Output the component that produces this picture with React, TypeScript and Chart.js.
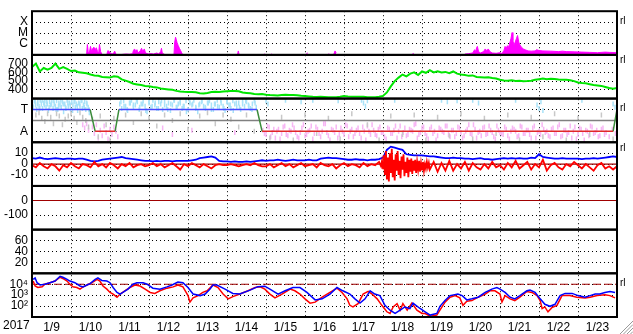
import React, { useEffect, useRef } from 'react';
import { Chart, registerables } from 'chart.js';

Chart.register(...registerables);

// ---------------- labels ----------------
const DATE_LABELS = ['1/9', '1/10', '1/11', '1/12', '1/13', '1/14', '1/15', '1/16', '1/17', '1/18', '1/19', '1/20', '1/21', '1/22', '1/23'];
const YEAR_LABEL = '2017';
const XRAY_TICKS = [1e-6, 1e-5, 1e-4];
const XRAY_TICK_LABELS = ['C', 'M', 'X'];
const SPEED_TICKS = [400, 500, 600, 700];
const SECTOR_TICKS = [-1, 1];
const SECTOR_TICK_LABELS = ['A', 'T'];
const IMF_TICKS = [-10, 0, 10];
const DST_TICKS = [-100, 0];
const KP_TICKS = [20, 40, 60];
const ELECTRON_TICKS = [1e2, 1e3, 1e4];
const ELECTRON_TICK_LABELS = ['10²', '10³', '10⁴'];
const SIDE_MARK = 'rl';

// time in days since 2017-01-09 00:00 UT
const SAMPLE_STEP_DAYS = 0.1;

// ---------------- X-ray flux (W/m², null = below scale) ----------------
const XRAY: [number, number | null][] = [
  [1.40, 1.2e-7], [1.42, 9e-7], [1.44, 2e-7], [1.47, 1.5e-7], [1.50, 6e-7], [1.53, 2e-7], [1.56, 4e-7], [1.59, 5e-7],
  [1.62, 3e-7], [1.65, 4.5e-7], [1.68, 2e-7], [1.71, 1.5e-7], [1.73, 9e-7], [1.76, 2e-7], [1.79, 1.2e-7], [1.80, null],
  [1.92, 1.3e-7], [1.95, 2.5e-7], [1.99, 1.8e-7], [2.03, 1.3e-7], [2.08, 1.2e-7], [2.12, 2.2e-7], [2.15, 1.2e-7], [2.16, null],
  [2.31, 1.1e-7], [2.40, 1.2e-7], [2.50, 1.15e-7], [2.58, 1.3e-7], [2.60, 2.5e-7], [2.63, 3.5e-7], [2.66, 2e-7], [2.69, 3e-7],
  [2.72, 1.5e-7], [2.78, 2.5e-7], [2.81, 4e-7], [2.84, 2e-7], [2.88, 3.5e-7], [2.91, 1.5e-7], [2.98, 1.2e-7], [3.05, 1.3e-7],
  [3.12, 1.2e-7], [3.20, 1.5e-7], [3.25, 1.2e-7], [3.30, 2e-7], [3.32, 4e-7], [3.34, 1.5e-7], [3.37, 1.3e-7], [3.40, 1.1e-7], [3.41, null],
  [3.64, 1.1e-7], [3.66, 1.5e-6], [3.68, 4.2e-6], [3.70, 2.5e-6], [3.72, 1.3e-6], [3.75, 7e-7], [3.78, 4e-7], [3.81, 2.5e-7],
  [3.84, 1.5e-7], [3.86, 1.1e-7], [3.87, null],
  [5.27, 1.1e-7], [5.29, 2.3e-7], [5.31, 1.1e-7], [5.32, null],
  [5.94, 1.1e-7], [5.96, 1.3e-7], [5.97, null],
  [6.12, 1.1e-7], [6.14, 1.3e-7], [6.15, null],
  [7.04, 1.1e-7], [7.06, 1.6e-7], [7.07, null],
  [7.59, 1.1e-7], [7.62, 1.3e-7], [7.63, null],
  [7.74, 1.2e-7], [7.77, 2.3e-7], [7.80, 1.5e-7], [7.81, null],
  [9.76, 1.1e-7], [9.78, 1.5e-7], [9.79, null],
  [11.10, 1.2e-7], [11.20, 1.3e-7], [11.30, 1.5e-7], [11.35, 3e-7], [11.38, 2e-7], [11.40, 4.5e-7], [11.42, 6e-7], [11.45, 2e-7],
  [11.50, 1.5e-7], [11.58, 2e-7], [11.62, 3.5e-7], [11.66, 2.5e-7], [11.70, 3.5e-7], [11.74, 2e-7], [11.80, 1.5e-7], [11.90, 1.4e-7],
  [12.00, 1.6e-7], [12.05, 1.3e-7], [12.10, 2.5e-7], [12.13, 6e-7], [12.16, 4e-7], [12.19, 7e-7], [12.22, 5e-7], [12.25, 1.2e-6],
  [12.28, 3e-6], [12.31, 1.1e-5], [12.33, 2e-6], [12.36, 8e-7], [12.39, 1.5e-6], [12.42, 3e-6], [12.45, 6e-6], [12.48, 1.5e-6],
  [12.51, 8e-7], [12.55, 5e-7], [12.60, 3.5e-7], [12.66, 2.8e-7], [12.72, 2.3e-7], [12.80, 2.2e-7], [12.90, 2.3e-7], [12.94, 3e-7],
  [13.00, 2.5e-7], [13.10, 2.3e-7], [13.30, 2.2e-7], [13.50, 2.0e-7], [13.60, 2.2e-7], [13.70, 2.0e-7], [13.90, 1.9e-7], [14.10, 1.8e-7],
  [14.30, 1.7e-7], [14.50, 1.6e-7], [14.70, 1.8e-7], [14.80, 1.7e-7], [15.00, 1.6e-7],
];

// ---------------- solar wind speed (km/s), every 0.1 day ----------------
const SPEED = [
  660, 700, 610, 650, 630, 650, 700, 640, 660, 640,
  615, 620, 600, 595, 590, 575, 565, 560, 548, 545,
  540, 555, 550, 520, 505, 490, 470, 462, 455, 445,
  440, 432, 428, 415, 410, 405, 400, 388, 382, 378,
  375, 375, 372, 362, 358, 365, 375, 378, 376, 380,
  384, 386, 388, 384, 370, 365, 360, 352, 350, 352,
  345, 340, 338, 336, 340, 343, 342, 340, 338, 332,
  330, 325, 320, 318, 320, 318, 316, 314, 315, 320,
  330, 325, 322, 320, 322, 320, 316, 314, 315, 320,
  330, 370, 440, 500, 540, 575, 555, 585, 600, 570,
  610, 595, 625, 600, 612, 598, 605, 590, 610, 585,
  575, 570, 560, 565, 548, 545, 540, 545, 535, 530,
  515, 508, 505, 510, 502, 505, 498, 500, 505, 515,
  522, 530, 520, 528, 525, 518, 515, 515, 510, 500,
  485, 478, 475, 465, 455, 450, 445, 432, 420, 412,
  420,
];

// ---------------- IMF sector (T = +1, A = -1) ----------------
const SECTOR_TOWARD: [number, number][] = [[0, 1.49], [2.23, 5.77]];
const SECTOR_AWAY: [number, number][] = [[1.62, 2.13], [5.90, 14.90]];
const SECTOR_SWITCH: [number, number, number, number][] = [
  [1.49, 1, 1.62, -1], [2.13, -1, 2.23, 1], [5.77, 1, 5.90, -1], [14.90, -1, 15.0, 1],
];

const TOWARD_PTS: [number, number][] = [
  [0.00, 1.6], [0.03, 1.2], [0.06, 1.8], [0.09, 1.4], [0.12, 1.0], [0.15, 1.7], [0.18, 1.3], [0.21, 1.85], [0.24, 1.5], [0.27, 1.1],
  [0.30, 1.6], [0.33, 1.8], [0.36, 1.2], [0.39, 1.5], [0.42, 0.9], [0.45, 1.7], [0.48, 1.4], [0.51, 1.85], [0.54, 1.1], [0.57, 1.5],
  [0.60, 1.3], [0.63, 1.8], [0.66, 1.0], [0.69, 1.6], [0.72, 1.4], [0.75, 1.2], [0.78, 1.7], [0.81, 0.8], [0.84, 1.5], [0.87, 1.1],
  [0.90, 1.85], [0.93, 1.3], [0.96, 1.6], [0.99, 1.0], [1.02, 1.7], [1.05, 1.4], [1.08, 1.8], [1.11, 1.2], [1.14, 1.5], [1.17, 0.9],
  [1.20, 1.6], [1.23, 1.3], [1.26, 1.8], [1.29, 1.1], [1.32, 1.4], [1.35, 1.7], [1.38, 1.0], [1.41, 1.5], [1.44, 1.2], [1.47, 0.7],
  [0.02, 1.3], [0.08, 1.75], [0.14, 1.5], [0.20, 1.1], [0.26, 1.85], [0.32, 1.4], [0.38, 1.7], [0.44, 1.2], [0.50, 1.5], [0.56, 1.8],
  [0.62, 1.0], [0.68, 1.3], [0.74, 1.85], [0.80, 1.5], [0.86, 1.2], [0.92, 1.6], [0.98, 1.4], [1.04, 0.9], [1.10, 1.7], [1.16, 1.3],
  [1.22, 1.5], [1.28, 1.85], [1.34, 1.2], [1.40, 1.6], [1.46, 1.0],
  [2.25, 1.5], [2.30, 1.1], [2.35, 1.8], [2.40, 1.3], [2.45, 0.9], [2.50, 1.6], [2.55, 1.85], [2.60, 1.2], [2.65, 1.4], [2.70, 1.7],
  [2.75, 1.0], [2.80, 1.5], [2.85, 1.8], [2.90, 1.3], [2.95, 0.8], [3.00, 1.6], [3.05, 1.2], [3.10, 1.85], [3.15, 1.4], [3.20, 1.1],
  [3.25, 1.7], [3.30, 1.5], [3.35, 1.0], [3.40, 1.8], [3.45, 1.3], [3.50, 1.6], [3.55, 0.9], [3.60, 1.4], [3.65, 1.85], [3.70, 1.2],
  [3.75, 1.5], [3.80, 1.7], [3.85, 1.1], [3.90, 1.3], [3.95, 1.8], [4.00, 1.0], [4.05, 1.6], [4.10, 1.4], [4.15, 1.85], [4.20, 1.2],
  [4.25, 0.8], [4.30, 1.5], [4.35, 1.7], [4.40, 1.3], [4.45, 1.1], [4.50, 1.6], [4.55, 1.8], [4.60, 1.4], [4.65, 1.0], [4.70, 1.5],
  [4.75, 1.85], [4.80, 1.2], [4.85, 1.6], [4.90, 1.3], [4.95, 0.9], [5.00, 1.7], [5.05, 1.4], [5.10, 1.1], [5.15, 1.8], [5.20, 1.5],
  [5.25, 1.2], [5.30, 1.6], [5.35, 1.0], [5.40, 1.85], [5.45, 1.3], [5.50, 1.7], [5.55, 1.4], [5.60, 1.1], [5.65, 1.5], [5.70, 1.8], [5.75, 1.2],
  [2.28, 1.7], [2.36, 1.3], [2.44, 1.0], [2.52, 1.6], [2.60, 1.4], [2.68, 1.85], [2.76, 1.2], [2.84, 1.5], [2.92, 0.9], [3.00, 1.7],
  [3.08, 1.3], [3.16, 1.6], [3.24, 1.1], [3.32, 1.8], [3.40, 1.4], [3.48, 1.0], [3.56, 1.5], [3.64, 1.85], [3.72, 1.2], [3.80, 1.6],
  [3.88, 1.3], [3.96, 0.8], [4.04, 1.7], [4.12, 1.5], [4.20, 1.1], [4.28, 1.4], [4.36, 1.8], [4.44, 1.2], [4.52, 1.6], [4.60, 1.0],
  [4.68, 1.5], [4.76, 1.3], [4.84, 1.85], [4.92, 1.1], [5.00, 1.7], [5.08, 1.4], [5.16, 0.9], [5.24, 1.6], [5.32, 1.2], [5.40, 1.5],
  [5.48, 1.8], [5.56, 1.3], [5.64, 1.0], [5.72, 1.6],
  [6.00, 1.8], [6.05, 1.5], [6.50, 1.85], [6.90, 1.7], [7.20, 1.85], [7.85, 1.8], [8.45, 1.85], [8.50, 1.6], [8.55, 1.3], [8.60, 1.8],
  [9.30, 1.85], [10.50, 1.85], [10.65, 1.7], [10.90, 1.8], [11.30, 1.85], [11.45, 1.6], [12.40, 1.85], [12.95, 1.4], [13.00, 1.1],
  [13.05, 1.7], [13.10, 0.9], [14.10, 1.85], [14.90, 1.5], [14.95, 1.2],
];

const AWAY_DAYS = [
  1.30, 1.35, 1.40, 1.45, 1.55, 1.60, 1.65, 1.70, 1.75, 1.80, 1.85, 1.90, 1.95, 2.00, 2.05, 2.10, 2.15, 2.20, 3.35, 3.60, 4.10, 5.20,
  5.92, 6.00, 6.08, 6.16, 6.24, 6.32, 6.40, 6.48, 6.56, 6.64, 6.72, 6.80, 6.88, 6.96, 7.04, 7.12, 7.20, 7.28, 7.36, 7.44,
  7.52, 7.60, 7.68, 7.76, 7.84, 7.92, 8.00, 8.08, 8.16, 8.24, 8.32, 8.40, 8.48, 8.56, 8.64, 8.72, 8.80, 8.88, 8.96, 9.04,
  9.12, 9.20, 9.28, 9.36, 9.44, 9.52, 9.60, 9.68, 9.76, 9.84, 9.92, 10.00, 10.08, 10.16, 10.24, 10.32, 10.40, 10.48, 10.56, 10.64,
  10.72, 10.80, 10.88, 10.96, 11.04, 11.12, 11.20, 11.28, 11.36, 11.44, 11.52, 11.60, 11.68, 11.76, 11.84, 11.92, 12.00, 12.08,
  12.16, 12.24, 12.32, 12.40, 12.48, 12.56, 12.64, 12.72, 12.80, 12.88, 12.96, 13.04, 13.12, 13.20, 13.28, 13.36, 13.44, 13.52,
  13.60, 13.68, 13.76, 13.84, 13.92, 14.00, 14.08, 14.16, 14.24, 14.32, 14.40, 14.48, 14.56, 14.64, 14.72, 14.80, 14.88, 14.96,
];
const AWAY_VALS = [
  -0.4, -0.7, -0.3, -0.9, -0.6, -1.2, -0.4, -1.6, -0.9, -1.4, -0.5, -1.1, -1.7, -0.8, -1.3, -0.6, -1.0, -1.5, -0.7, -1.3, -0.9, -1.1,
  -0.9, -1.3, -0.6, -1.1, -1.6, -0.8, -1.2, -0.5, -1.4, -1.0, -0.7, -1.5, -1.1, -0.4, -1.3, -0.9, -1.7, -0.6, -1.2, -1.0,
  -0.3, -1.4, -0.8, -1.1, -1.6, -0.7, -1.3, -0.5, -1.0, -1.5, -0.9, -1.2, -0.6, -1.8, -1.0, -0.4, -1.3, -0.8, -1.1, -1.5,
  -0.7, -1.2, -0.9, -1.6, -0.5, -1.1, -1.4, -0.8, -1.0, -0.3, -1.3, -0.7, -1.2, -1.7, -0.6, -1.0, -1.4, -0.8, -1.1, -0.5,
  -1.5, -0.9, -1.2, -0.7, -1.6, -1.0, -0.4, -1.3, -0.8, -1.1, -1.4, -0.6, -1.2, -0.9, -1.5, -0.5, -1.1, -1.3,
  -0.8, -1.7, -0.7, -1.0, -1.4, -0.6, -1.2, -0.9, -1.6, -0.5, -1.1, -1.3, -0.8, -1.0, -1.5, -0.7, -1.2, -0.4,
  -1.4, -0.9, -1.1, -1.6, -0.6, -1.3, -0.8, -1.8, -1.0, -0.5, -1.2, -0.9, -1.4, -0.7, -1.1, -1.5, -0.8, -1.2,
];
const AWAY_DAYS_2 = [
  5.96, 6.04, 6.12, 6.20, 6.28, 6.36, 6.44, 6.52, 6.60, 6.68, 6.76, 6.84, 6.92, 7.00, 7.08, 7.16, 7.24, 7.32, 7.40, 7.48,
  7.56, 7.64, 7.72, 7.80, 7.88, 7.96, 8.04, 8.12, 8.20, 8.28, 8.36, 8.44, 8.52, 8.60, 8.68, 8.76, 8.84, 8.92, 9.00, 9.08,
  9.16, 9.24, 9.32, 9.40, 9.48, 9.56, 9.64, 9.72, 9.80, 9.88, 9.96, 10.04, 10.12, 10.20, 10.28, 10.36, 10.44, 10.52, 10.60, 10.68,
  10.76, 10.84, 10.92, 11.00, 11.08, 11.16, 11.24, 11.32, 11.40, 11.48, 11.56, 11.64, 11.72, 11.80, 11.88, 11.96, 12.04, 12.12, 12.20, 12.28,
  12.36, 12.44, 12.52, 12.60, 12.68, 12.76, 12.84, 12.92, 13.00, 13.08, 13.16, 13.24, 13.32, 13.40, 13.48, 13.56, 13.64, 13.72, 13.80, 13.88,
  13.96, 14.04, 14.12, 14.20, 14.28, 14.36, 14.44, 14.52, 14.60, 14.68, 14.76, 14.84, 14.92,
];
const AWAY_VALS_2 = [
  -1.2, -0.5, -1.5, -0.8, -1.0, -1.7, -0.6, -1.3, -0.9, -0.4, -1.1, -1.6, -0.7, -1.4, -1.0, -0.5, -1.2, -0.8, -1.5, -0.3,
  -1.1, -1.8, -0.9, -0.6, -1.3, -1.0, -0.4, -1.5, -0.8, -1.2, -0.7, -1.6, -1.0, -0.5, -1.3, -0.9, -1.4, -0.6, -1.1, -1.7,
  -0.8, -1.2, -0.5, -1.0, -1.5, -0.7, -1.3, -0.9, -0.4, -1.6, -1.1, -0.6, -1.4, -0.8, -1.2, -1.8, -0.7, -1.0, -0.5, -1.3,
  -0.9, -1.5, -0.6, -1.1, -1.4, -0.8, -1.2, -0.4, -1.6, -1.0, -0.7, -1.3, -0.5, -1.1, -1.7, -0.9, -1.2, -0.6, -1.4, -1.0,
  -0.8, -1.5, -0.5, -1.2, -0.9, -1.3, -0.7, -1.6, -1.0, -0.4, -1.1, -1.4, -0.8, -1.2, -0.6, -1.5, -0.9, -1.3, -0.5, -1.0,
  -1.7, -0.7, -1.2, -0.9, -1.4, -0.6, -1.1, -1.5, -0.8, -1.3,
];

const OTHER_PTS: [number, number][] = [
  [0.10, 0.5], [0.25, 0.2], [0.40, 0.6], [0.55, -0.3], [0.70, 0.4], [0.85, 0.1], [1.00, 0.6], [1.15, -0.2], [1.30, 0.3], [1.45, -0.6],
  [0.18, 0.7], [0.33, -0.1], [0.48, 0.3], [0.63, 0.6], [0.78, -0.4], [0.93, 0.4], [1.08, 0.2], [1.23, 0.7], [1.38, 0.0],
  [1.55, 0.1], [1.70, -1.5], [1.75, 0.4], [1.90, -0.4], [2.00, -1.8], [2.10, 0.2],
  [2.40, 0.5], [2.60, -0.2], [2.80, 0.6], [3.00, 0.2], [3.20, -0.5], [3.40, 0.5], [3.60, 0.0], [3.80, 0.6], [4.00, -0.8], [4.30, 0.4],
  [4.50, 0.7], [4.70, -0.3], [4.90, 0.5], [5.10, 0.1], [5.30, -0.6], [5.50, 0.5], [5.70, -1.0],
  [6.10, -1.6], [6.40, 0.3], [6.70, -1.8], [7.00, 0.5], [7.30, -1.2], [7.60, 0.2], [7.90, -1.7], [8.20, 0.6], [8.60, -0.4], [8.90, -1.8],
  [9.20, 0.4], [9.50, -1.3], [9.80, 0.5], [10.10, -1.8], [10.40, 0.3], [10.70, -1.4], [11.00, 0.6], [11.30, -1.7], [11.60, 0.2], [11.90, -1.2],
  [12.20, 0.5], [12.50, -1.8], [12.80, 0.3], [13.10, -1.5], [13.40, 0.6], [13.70, -1.8], [14.00, 0.2], [14.30, -1.3], [14.60, 0.5], [14.90, -1.7],
];

// ---------------- IMF (nT), every 0.1 day ----------------
const BT = [
  5.5, 5, 6, 5, 4.5, 5, 5.5, 5, 4.5, 5,
  5, 4.5, 5, 5, 4, 3, 2.5, 3, 4, 4.5,
  5, 5.5, 6, 6.5, 5.5, 5, 4.5, 4, 3.5, 3,
  3, 2.5, 3, 2.5, 3, 3, 2.5, 3, 3, 3,
  3, 3.5, 4, 5.5, 6, 6.5, 7, 6, 3, 2.5,
  2.5, 2, 2.5, 2, 2, 2.5, 2, 2.5, 3, 3.5,
  3, 3.5, 3.5, 4, 3.5, 3, 3.5, 4, 3.5, 3.5,
  3.5, 4, 3.5, 3.5, 5, 5.5, 6, 5.5, 5.5, 5,
  4.5, 4, 4, 4.5, 4, 4, 3.5, 4, 4, 4.5,
  6, 13, 16, 15, 14, 13, 9, 8.5, 8, 8,
  8, 7.5, 7, 7, 6.5, 6, 5.5, 5.5, 6, 5.5,
  5.5, 5, 5, 4.5, 5, 5.5, 4.5, 4.5, 4, 4.5,
  5, 5.5, 5, 5.5, 5, 5.5, 5, 5, 6, 5.5,
  9, 6.5, 6, 5.5, 5, 5, 5.5, 5, 5, 5,
  5, 4.5, 5, 5, 5.5, 5, 5.5, 6, 6.5, 7,
  6.5,
];
// null where the finer storm-time record below takes over
const BZ: (number | null)[] = [
  -1, -3, 1, -2, -4, 0, -2, -6, -1, -3,
  1, -2, -4, 0, -1, -3, 2, -2, 0, -3,
  1, -1, -4, 0, -2, 1, -3, -1, 0, -2,
  -1, 1, -2, 0, -3, -1, 1, -2, -5, 0,
  -2, 1, -1, -3, 0, -2, -4, -1, 0, -1,
  -1, 0, -1, -2, -1, 0, -1, 1, -1, -2,
  -2, 0, -3, -1, 1, -2, 0, -3, -1, 1,
  -2, -1, 0, -3, 1, -1, -2, 0, -4, -1,
  1, -2, 0, -1, -3, 1, -2, 0, -1, 2,
  null, null, null, null, null, null, null, null, null, null,
  null, null, -5, 2, -7, 1, -6, 3, -6, 0,
  -4, 2, -6, 1, -3, -5, 0, -4, 2, -3,
  -1, -5, 1, -3, 3, -4, -1, 2, -5, 0,
  -3, 4, -6, -1, 1, -3, -5, 0, -2, 2,
  -1, -4, 0, -3, -6, -1, 1, -4, -2, -5,
  -2,
];
const BZ_STORM: [number, number][] = [
  [8.925, 0], [8.95, -2], [8.975, 3], [9.0, -4], [9.025, 8], [9.05, -10], [9.075, 12], [9.10, -14], [9.125, 6], [9.15, -16], [9.175, 10],
  [9.20, -8], [9.225, 14], [9.25, -12], [9.275, 4], [9.30, -15], [9.325, 9], [9.35, -6], [9.375, 12], [9.40, -10], [9.425, 3],
  [9.45, -13], [9.475, 7], [9.50, -5], [9.525, 9], [9.55, -11], [9.575, 2], [9.60, -8], [9.625, 6], [9.65, -12], [9.675, 4],
  [9.70, -7], [9.725, 5], [9.75, -9], [9.775, 3], [9.80, -6], [9.825, 4], [9.85, -8], [9.875, 2], [9.90, -5], [9.925, 3],
  [9.95, -7], [9.975, 1], [10.0, -5], [10.025, 2], [10.05, -6], [10.075, 0], [10.10, -4], [10.125, 2], [10.15, -3], [10.175, 1],
];

// ---------------- reference lines ----------------
const ZERO_LEVEL = 0;
const ELECTRON_ALERT = 1e4;

// ---------------- >2 MeV electron flux ----------------
const ELEC_BLUE: [number, number][] = [
  [0.03, 27500], [0.08, 38000], [0.13, 13800], [0.21, 8500], [0.33, 10000], [0.46, 13800], [0.59, 19500], [0.72, 53700], [0.79, 43600], [0.90, 27500],
  [0.97, 19500], [1.10, 13800], [1.23, 6900], [1.31, 5750], [1.41, 8500], [1.49, 11200], [1.62, 27500], [1.69, 38000], [1.79, 22400], [1.92, 19500],
  [2.00, 13800], [2.08, 5000], [2.18, 1780], [2.26, 1260], [2.33, 1780], [2.46, 3550], [2.59, 10000], [2.69, 13800], [2.85, 13800], [2.95, 10000],
  [3.10, 4370], [3.28, 3550], [3.46, 5750], [3.59, 8500], [3.74, 15800], [3.87, 13800], [4.00, 5000], [4.13, 1260], [4.31, 910], [4.44, 1260],
  [4.56, 3550], [4.64, 8500], [4.74, 8500], [4.95, 3550], [5.15, 1450], [5.33, 1260], [5.59, 2880], [5.79, 6000], [5.97, 6600], [6.10, 3550],
  [6.31, 1260], [6.49, 2510], [6.69, 5000], [6.87, 5000], [7.05, 1780], [7.26, 370], [7.44, 460], [7.64, 1260], [7.82, 5000], [7.97, 2510],
  [8.15, 1260], [8.28, 460], [8.41, 186], [8.54, 460], [8.67, 2510], [8.79, 1260], [8.92, 910], [9.05, 117], [9.18, 42], [9.31, 21],
  [9.44, 42], [9.56, 83], [9.69, 59], [9.77, 186], [9.95, 60], [10.08, 30], [10.21, 15], [10.38, 21], [10.46, 95], [10.59, 320],
  [10.72, 910], [10.92, 1260], [11.03, 910], [11.15, 370], [11.28, 460], [11.44, 650], [11.62, 1780], [11.79, 3550], [11.92, 5000], [12.00, 3550],
  [12.13, 1780], [12.26, 650], [12.38, 460], [12.51, 910], [12.69, 2510], [12.77, 2880], [12.90, 1780], [13.03, 460], [13.15, 145], [13.28, 95],
  [13.41, 145], [13.54, 910], [13.67, 1450], [13.85, 1450], [14.00, 910], [14.18, 650], [14.31, 910], [14.44, 1260], [14.56, 1260], [14.69, 1780],
  [14.82, 2190], [14.95, 1780],
];
const ELEC_RED: [number, number][] = [
  [0.03, 19500], [0.08, 6900], [0.15, 5000], [0.26, 5750], [0.33, 10000], [0.46, 13800], [0.59, 19500], [0.72, 43600], [0.79, 33900], [0.90, 19500],
  [0.97, 10000], [1.05, 5750], [1.15, 5000], [1.23, 3550], [1.31, 5750], [1.41, 8500], [1.54, 13800], [1.67, 27500], [1.74, 19500], [1.82, 6900],
  [1.92, 3550], [2.00, 1780], [2.08, 1260], [2.18, 650], [2.26, 1260], [2.38, 2510], [2.51, 5000], [2.64, 8500], [2.77, 6900], [2.90, 3550],
  [3.03, 1780], [3.15, 1450], [3.28, 2510], [3.46, 4370], [3.62, 5750], [3.74, 8500], [3.87, 5750], [4.00, 910], [4.05, 230], [4.13, 560],
  [4.26, 910], [4.38, 1780], [4.49, 2510], [4.64, 8500], [4.77, 5000], [4.90, 1260], [5.03, 460], [5.15, 740], [5.33, 1260], [5.54, 2510],
  [5.72, 5000], [5.85, 5750], [5.97, 3550], [6.10, 1260], [6.23, 560], [6.41, 1260], [6.62, 3550], [6.74, 2510], [6.87, 1260], [7.00, 460],
  [7.13, 186], [7.26, 230], [7.44, 650], [7.64, 1780], [7.82, 4370], [7.95, 1780], [8.08, 460], [8.15, 117], [8.23, 83], [8.36, 166],
  [8.49, 1260], [8.62, 2190], [8.72, 1260], [8.85, 460], [8.97, 117], [9.10, 30], [9.18, 21], [9.26, 83], [9.36, 166], [9.44, 42],
  [9.51, 166], [9.62, 42], [9.74, 186], [9.87, 42], [10.00, 21], [10.08, 21], [10.21, 12], [10.38, 15], [10.46, 42], [10.59, 230],
  [10.72, 650], [10.85, 910], [10.97, 560], [11.05, 117], [11.15, 280], [11.28, 320], [11.44, 650], [11.62, 1260], [11.74, 2510], [11.87, 2510],
  [12.00, 1260], [12.05, 230], [12.13, 910], [12.26, 460], [12.38, 320], [12.51, 650], [12.69, 2190], [12.82, 1780], [12.95, 910], [13.03, 320],
  [13.08, 59], [13.15, 83], [13.23, 30], [13.33, 72], [13.46, 117], [13.59, 910], [13.79, 910], [13.97, 650], [14.18, 560], [14.31, 650],
  [14.49, 910], [14.69, 1100], [14.82, 910], [14.95, 560],
];

// ---------------- styling ----------------
const FONT = '"Liberation Sans", Arial, Helvetica, sans-serif';
const PANEL_IDS = ['yXray', 'ySpeed', 'ySector', 'yImf', 'yDst', 'yKp', 'yElec'];
const SIDE_MARKS: { axis: string; value: number }[] = [
  { axis: 'yXray', value: 1.2e-4 },
  { axis: 'ySpeed', value: 735 },
  { axis: 'ySector', value: 1.1 },
  { axis: 'yImf', value: 14.5 },
  { axis: 'yElec', value: 1.2e4 },
];

const pts = (pairs: [number, number | null][]) => pairs.map(([x, y]) => ({ x, y }));
const sampled = (vals: (number | null)[]) => vals.map((y, i) => ({ x: +(i * SAMPLE_STEP_DAYS).toFixed(2), y }));
const zip = (days: number[], vals: number[]) =>
  days.slice(0, Math.min(days.length, vals.length)).map((d, i) => ({ x: d, y: vals[i] }));

function yAxis(weight: number, extra: any, tickVals: number[], labelFn: (v: number) => string) {
  return {
    position: 'left',
    stack: 'panels',
    stackWeight: 1,
    weight,
    offset: false,
    afterFit: (s: any) => { s.width = 32; },
    afterBuildTicks: (s: any) => { s.ticks = tickVals.map((v) => ({ value: v })); },
    grid: { color: '#000', lineWidth: 1, drawTicks: false },
    border: { display: false, dash: [1, 3] },
    ticks: {
      autoSkip: false,
      padding: 4,
      color: '#000',
      font: { family: FONT, size: 12 },
      callback: (v: number) => labelFn(v),
    },
    ...extra,
  };
}

const framePlugin = {
  id: 'frame',
  afterDraw(chart: any) {
    const { ctx, chartArea: a, scales } = chart;
    ctx.save();
    ctx.strokeStyle = '#000';
    ctx.lineWidth = 2;
    for (const id of PANEL_IDS) {
      const s = scales[id];
      ctx.strokeRect(a.left, s.top, a.right - a.left, s.bottom - s.top);
    }
    ctx.fillStyle = '#000';
    ctx.font = `10px ${FONT}`;
    ctx.textAlign = 'left';
    ctx.textBaseline = 'middle';
    for (const m of SIDE_MARKS) {
      ctx.fillText(SIDE_MARK, a.right + 3, scales[m.axis].getPixelForValue(m.value));
    }
    ctx.font = `12px ${FONT}`;
    ctx.textBaseline = 'top';
    ctx.fillText(YEAR_LABEL, 3, scales.x.top + 3);
    ctx.strokeStyle = '#999';
    ctx.lineWidth = 1;
    const W = chart.width, H = chart.height;
    for (let k = 0; k < 4; k++) {
      ctx.beginPath();
      ctx.moveTo(W, H - 13 + k * 3.5);
      ctx.lineTo(W - 13 + k * 3.5, H);
      ctx.stroke();
    }
    ctx.restore();
  },
};

export default function App() {
  const ref = useRef<HTMLCanvasElement>(null);

  useEffect(() => {
    const canvas = ref.current;
    if (!canvas) return;
    Chart.defaults.font.family = FONT;

    const towardLine = SECTOR_TOWARD.flatMap(([a, b]) => [{ x: a, y: 1 }, { x: b, y: 1 }, { x: b + 0.001, y: null }]);
    const awayLine = SECTOR_AWAY.flatMap(([a, b]) => [{ x: a, y: -1 }, { x: b, y: -1 }, { x: b + 0.001, y: null }]);
    const switchLine = SECTOR_SWITCH.flatMap(([a, ya, b, yb]) => [{ x: a, y: ya }, { x: b, y: yb }, { x: b + 0.001, y: null }]);
    const awayPts = [...zip(AWAY_DAYS, AWAY_VALS), ...zip(AWAY_DAYS_2, AWAY_VALS_2)];
    const bzData = [...sampled(BZ).filter((p) => p.y !== null), ...pts(BZ_STORM)].sort((p, q) => p.x - q.x);

    const lineDs = (extra: any) => ({
      type: 'line',
      pointRadius: 0,
      borderWidth: 1,
      tension: 0,
      spanGaps: false,
      fill: false,
      clip: 0,
      ...extra,
    });
    const dotDs = (data: any[], color: string) => ({
      type: 'scatter',
      data,
      yAxisID: 'ySector',
      pointStyle: 'line',
      rotation: 90,
      pointRadius: 2.5,
      borderWidth: 1.5,
      borderColor: color,
      backgroundColor: color,
      clip: 0,
      order: 20,
    });

    const datasets: any[] = [
      lineDs({ data: pts(XRAY), yAxisID: 'yXray', borderColor: '#ff00ff', backgroundColor: '#ff00ff', fill: 'start', order: 5 }),
      lineDs({ data: sampled(SPEED), yAxisID: 'ySpeed', borderColor: '#00e600', borderWidth: 2, order: 5 }),
      dotDs(pts(OTHER_PTS), '#c8c8c8'),
      dotDs(pts(TOWARD_PTS), '#a8e2f8'),
      dotDs(awayPts, '#f7b6f4'),
      lineDs({ data: [{ x: 0, y: ZERO_LEVEL }, { x: 15, y: ZERO_LEVEL }], yAxisID: 'ySector', borderColor: '#808080', borderWidth: 1.5, order: 8 }),
      lineDs({ data: towardLine, yAxisID: 'ySector', borderColor: '#4646ff', borderWidth: 1.5, order: 4 }),
      lineDs({ data: awayLine, yAxisID: 'ySector', borderColor: '#e02828', borderWidth: 1.5, order: 4 }),
      lineDs({ data: switchLine, yAxisID: 'ySector', borderColor: '#3c8c3c', borderWidth: 1.5, order: 4 }),
      lineDs({ data: [{ x: 0, y: ZERO_LEVEL }, { x: 15, y: ZERO_LEVEL }], yAxisID: 'yImf', borderColor: '#a00000', borderWidth: 1.2, order: 9 }),
      lineDs({ data: sampled(BT), yAxisID: 'yImf', borderColor: '#0000ff', borderWidth: 1.8, order: 6 }),
      lineDs({ data: bzData, yAxisID: 'yImf', borderColor: '#ff0000', borderWidth: 1.8, order: 5 }),
      lineDs({ data: [{ x: 0, y: ZERO_LEVEL }, { x: 15, y: ZERO_LEVEL }], yAxisID: 'yDst', borderColor: '#a00000', borderWidth: 1.2, order: 9 }),
      lineDs({ data: [{ x: 0, y: ELECTRON_ALERT }, { x: 15, y: ELECTRON_ALERT }], yAxisID: 'yElec', borderColor: '#a00000', borderWidth: 1.2, borderDash: [8, 3], order: 9 }),
      lineDs({ data: pts(ELEC_RED), yAxisID: 'yElec', borderColor: '#ff0000', borderWidth: 1.5, order: 6 }),
      lineDs({ data: pts(ELEC_BLUE), yAxisID: 'yElec', borderColor: '#0000ff', borderWidth: 1.5, order: 5 }),
    ];

    const halfDays: { value: number }[] = [];
    for (let i = 0; i <= 30; i++) halfDays.push({ value: i / 2 });

    const chart = new Chart(canvas, {
      type: 'line',
      data: { datasets },
      plugins: [framePlugin],
      options: {
        animation: false,
        responsive: false,
        devicePixelRatio: 1,
        events: [],
        layout: { padding: { top: 2, right: 16, left: 0, bottom: 0 } },
        plugins: { legend: { display: false }, tooltip: { enabled: false } },
        scales: {
          x: {
            type: 'linear',
            position: 'bottom',
            min: 0,
            max: 15,
            afterFit: (s: any) => { s.height = 17; },
            afterBuildTicks: (s: any) => { s.ticks = halfDays.map((t) => ({ value: t.value })); },
            grid: {
              color: (c: any) => (c.tick && Number.isInteger(c.tick.value) ? '#000' : 'rgba(0,0,0,0)'),
              lineWidth: 1,
              drawTicks: false,
            },
            border: { display: false, dash: [1, 3] },
            ticks: {
              autoSkip: false,
              maxRotation: 0,
              padding: 3,
              color: '#000',
              font: { family: FONT, size: 12 },
              callback: (v: number) => (v % 1 === 0.5 ? DATE_LABELS[Math.floor(v)] : ''),
            },
          },
          yXray: yAxis(7, { type: 'logarithmic', min: 1e-7, max: 1e-3 }, XRAY_TICKS,
            (v) => XRAY_TICK_LABELS[XRAY_TICKS.findIndex((t) => Math.abs(Math.log10(t) - Math.log10(v)) < 0.01)] ?? ''),
          ySpeed: yAxis(6, { type: 'linear', min: 300, max: 800 }, SPEED_TICKS, (v) => String(v)),
          ySector: yAxis(5, { type: 'linear', min: -2, max: 2 }, SECTOR_TICKS,
            (v) => SECTOR_TICK_LABELS[SECTOR_TICKS.indexOf(v)] ?? ''),
          yImf: yAxis(4, { type: 'linear', min: -20, max: 20 }, IMF_TICKS, (v) => String(v)),
          yDst: yAxis(3, { type: 'linear', min: -200, max: 100 }, DST_TICKS, (v) => String(v)),
          yKp: yAxis(2, { type: 'linear', min: 0, max: 80 }, KP_TICKS, (v) => String(v)),
          yElec: yAxis(1, { type: 'logarithmic', min: 10, max: 1e5 }, ELECTRON_TICKS,
            (v) => ELECTRON_TICK_LABELS[ELECTRON_TICKS.findIndex((t) => Math.abs(Math.log10(t) - Math.log10(v)) < 0.01)] ?? ''),
        } as any,
      },
    } as any);

    return () => chart.destroy();
  }, []);

  return (
    <div style={{ position: 'fixed', left: 0, top: 0, width: 633, height: 334, background: '#fff' }}>
      <canvas ref={ref} width={633} height={334} style={{ display: 'block', width: 633, height: 334 }} />
    </div>
  );
}
